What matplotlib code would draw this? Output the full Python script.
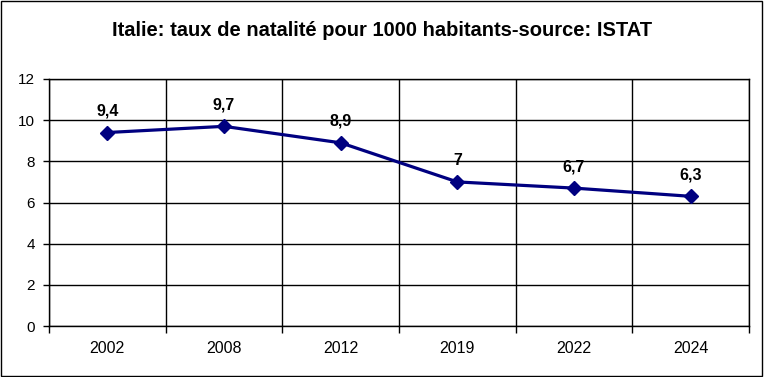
import matplotlib
matplotlib.use("Agg")
import matplotlib.pyplot as plt
from matplotlib.patches import Rectangle

years = ["2002", "2008", "2012", "2019", "2022", "2024"]
rates = [9.4, 9.7, 8.9, 7.0, 6.7, 6.3]
labels = ["9,4", "9,7", "8,9", "7", "6,7", "6,3"]
title = "Italie: taux de natalité pour 1000 habitants-source: ISTAT"

plt.rcParams['font.family'] = ['Liberation Sans', 'DejaVu Sans']

fig = plt.figure(figsize=(7.64, 3.77), dpi=100)
fig.patches.append(Rectangle((0.0015, 0.002), 0.996, 0.995, transform=fig.transFigure,
                             fill=False, edgecolor='black', linewidth=1.0))
ax = fig.add_axes([49/764, 1 - 326/377, 700/764, 247/377])

x = list(range(len(years)))
ax.plot(x, rates, color='#000080', linewidth=2.3, marker='D', markersize=7.5,
        markerfacecolor='#000080', markeredgecolor='#000080', zorder=5)
for xi, yi, lab in zip(x, rates, labels):
    ax.annotate(lab, (xi, yi), xytext=(0, 10), textcoords='offset points',
                ha='center', va='bottom', fontsize=11.5, fontweight='bold')

ax.set_xlim(-0.5, len(years) - 0.5)
ax.set_ylim(0, 12)
ax.set_yticks(range(0, 13, 2))
ax.set_yticklabels([str(v) for v in range(0, 13, 2)], fontsize=11)
ax.set_xticks([i - 0.5 for i in range(len(years) + 1)])
ax.set_xticklabels([])
ax.set_xticks(x, minor=True)
ax.set_xticklabels(years, minor=True, fontsize=11.5)
ax.tick_params(axis='x', which='major', length=5, width=1, color='black', direction='out')
ax.tick_params(axis='x', which='minor', length=0, pad=11)
ax.tick_params(axis='y', length=4, width=1, pad=6)
ax.grid(True, which='major', color='black', linewidth=1)
for s in ax.spines.values():
    s.set_color('black')
    s.set_linewidth(1)

fig.text(0.5, 1 - 31/377, title, ha='center', va='center', fontsize=14.5, fontweight='bold')

fig.savefig("out.png", dpi=100)
